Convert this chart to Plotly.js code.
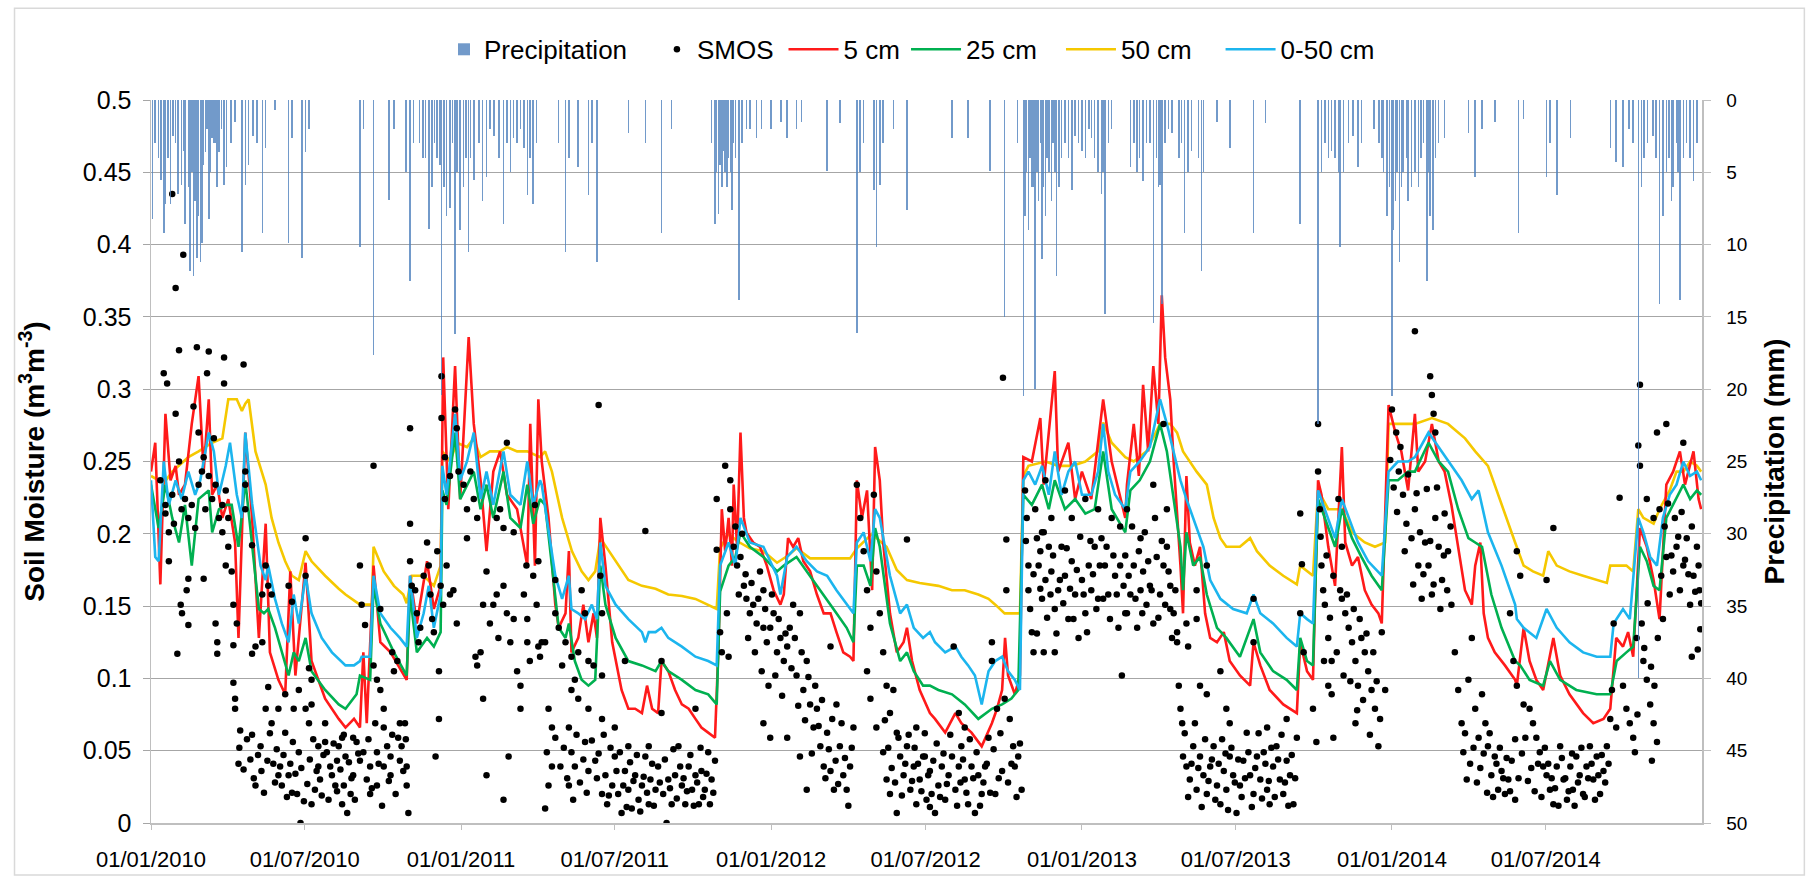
<!DOCTYPE html>
<html>
<head>
<meta charset="utf-8">
<script src="https://cdn.plot.ly/plotly-3.0.1.min.js"></script>
<style>
  html, body { margin: 0; padding: 0; background: #ffffff; }
  #chart { width: 1818px; height: 883px; }
</style>
</head>
<body>
<div id="chart"></div>
<script>
// Daily soil moisture at three depths, layer average, SMOS retrievals and rainfall, 2010-2014.
// All records are [day offset from 1 Jan 2010, value].

const tickDates = ['2010-01-01','2010-07-01','2011-01-01','2011-07-01','2012-01-01',
                   '2012-07-01','2013-01-01','2013-07-01','2014-01-01','2014-07-01'];
const tickText  = ['01/01/2010','01/07/2010','01/01/2011','01/07/2011','01/01/2012',
                   '01/07/2012','01/01/2013','01/07/2013','01/01/2014','01/07/2014'];

// rainfall, mm per day
const precipitation = [
  [2,8.2],[5,3],[9,4],[12,5.5],[15,9.2],[17,7.2],[20,4],[23,7.2],[26,2.5],[29,3],[32,6.5],[36,5.9],
  [38,3.5],[40,8.6],[44,6],[46,11.8],[48,5],[50,12.2],[52,7],[54,10.9],[56,8],[58,11.2],[60,9.9],
  [62,4.5],[64,3.6],[66,2],[68,8.2],[70,5],[72,2.6],[74,3],[76,3],[78,6],[80,3.6],[83,2],[86,5.9],
  [89,4.6],[94,3],[99,1.5],[107,10.5],[111,5.9],[115,4.5],[120,2.5],[125,3],[131,9.2],[135,3.3],
  [146,0.7],[162,9.9],[166,2.6],[178,10.9],[182,3.6],[186,2],
  [246,10.2],[250,2],[262,17.6],[280,6.9],[286,2],[300,5],[305,12.5],[309,3],[316,3],[320,4],
  [323,4],[327,8.9],[331,6],[334,3],[337,4],[340,4.5],[342,20.4],[345,6],[348,8],[352,7.5],[355,3],
  [358,16.2],[360,5],[364,9],[368,6],[371,4],[374,10.5],[376,4],[380,5.5],[386,3],[390,7],[395,5.3],
  [399,2],[404,2.5],[410,4],[415,8.6],[419,3],[423,5],[427,2.6],[431,3],[435,2],[439,3.3],[443,6.6],
  [446,4],[450,7.2],[454,3],
  [480,3],[488,10.5],[492,4],[503,4.6],[515,6.6],[519,3],[525,11.2],[562,2.3],[582,3],[601,9.2],
  [613,2],[660,3],[664,8.6],[666,5],[668,7.9],[670,4.5],[672,6],[674,3.5],[676,5],[678,6],[680,4],
  [682,5],[684,7.6],[686,3],[688,4],[692,13.8],[696,3],[701,2],[705,2],[713,2.6],[719,2],[730,2],
  [742,1.5],[749,2.6],[760,2],[766,1.5],[796,4.9],[811,1.6],
  [831,16.1],[835,5],[839,3],[851,6.2],[854,10.2],[858,5.9],[862,3],[874,2],[890,7.6],
  [943,2.6],[962,2.6],[988,4.9],[1005,15],[1020,3],[1027,20.5],[1029,8],[1031,5],[1033,9],[1035,4],
  [1037,6],[1039,6],[1041,20],[1043,5],[1045,7],[1047,3],[1049,11],[1051,6],[1053,8],[1055,4],
  [1057,5],[1060,7],[1062,3],[1064,5],[1066,12.2],[1069,6],[1072,4],[1076,3],[1080,4],[1084,6.2],
  [1088,2.5],[1092,3],[1096,3.5],[1100,4],[1104,2],[1107,2.6],[1111,4],[1115,5],[1119,6.5],
  [1121,5],[1123,14.8],[1127,3],[1131,2],
  [1153,4.6],[1157,3],[1161,5],[1164,4],[1168,5.6],[1172,3],[1176,3],[1180,15.4],[1184,4],
  [1186,6],[1188,5.9],[1190,14.1],[1194,3],[1198,2],[1202,2.3],[1210,4],[1213,3],[1217,9.2],
  [1221,5],[1225,3.5],[1233,4],[1237,11.8],[1239,5],[1255,1.5],[1270,3.3],[1298,9.2],[1312,1.6],
  [1353,8.6],[1374,22.4],
  [1378,5],[1382,3],[1386,4],[1390,3.5],[1394,4],[1398,5],[1400,10.2],[1404,5],[1410,3],[1415,2.5],
  [1421,4.6],[1425,3],[1440,2],[1446,3],[1449,4],[1451,5],[1455,8],[1458,6],[1461,20.5],[1463,9],
  [1465,7],[1467,5],[1470,11.2],[1472,6],[1474,5],[1478,4],[1480,7],[1484,6],[1488,5],[1492,6],
  [1495,4],[1498,3],[1502,12.5],[1504,5],[1506,8],[1509,9],[1512,4],[1516,3],[1523,2.6],
  [1551,2.3],[1559,5.3],[1567,2],[1582,1.5],
  [1610,9.2],[1616,1.3],[1643,5.3],[1647,3],[1655,6.6],[1671,2.6],[1718,3.3],[1725,4.3],[1733,4.6],
  [1740,2],[1745,3],[1751,40],[1755,6],[1758,4],[1762,3],[1768,2.5],[1772,4],[1776,14.1],[1780,8],
  [1784,5],[1787,4],[1790,7],[1792,6],[1796,3],[1798,5],[1800,13.8],[1804,4],[1808,3],[1812,4],
  [1816,5.6],[1820,3]
];

// SMOS surface soil moisture retrievals, m3/m3
const smos = [
  [25,0.435],[38,0.393],[29,0.37],[33,0.327],[54,0.329],[68,0.326],[86,0.322],[109,0.317],[15,0.311],
  [19,0.304],[66,0.311],[86,0.304],[29,0.283],[50,0.288],[56,0.27],[74,0.266],[62,0.253],[33,0.25],
  [11,0.237],[17,0.22],[17,0.214],[21,0.201],[25,0.227],[27,0.207],[36,0.217],[40,0.224],[44,0.211],
  [48,0.22],[52,0.204],[56,0.234],[60,0.243],[64,0.217],[68,0.24],[72,0.224],[76,0.234],[80,0.211],
  [84,0.22],[88,0.23],[91,0.211],[84,0.201],[111,0.243],[111,0.234],[111,0.217],[119,0.192],
  [21,0.181],[44,0.169],[62,0.169],[42,0.161],[35,0.151],[36.5,0.145],[44,0.137],[31,0.117],
  [76,0.138],[78,0.125],[78,0.117],[88,0.178],[91,0.191],[95,0.174],[97,0.151],[101,0.138],
  [97,0.123],[119,0.117],[97,0.097],[99,0.086],[99,0.079],[105,0.064],[103,0.041],[123,0.026],
  [119,0.061],[129,0.053],[135,0.079],[138,0.094],[144,0.041],[150,0.033],[154,0.026],[162,0.033],
  [168,0.079],[182,0.079],[189,0.082],[186,0.069],[174,0.049],[172,0.02],[176,0.0],[193,0.023],
  [199,0.03],[205,0.069],[207,0.049],[213,0.033],[221,0.053],[225,0.059],[158,0.0625],[197,0.039],
  [166,0.021],[180,0.015],[189,0.013],[209,0.016],[217,0.026],[225,0.013],[135,0.178],[131,0.158],
  [138,0.164],[142,0.158],[162,0.164],[166,0.153],[182,0.197],[182,0.171],[186,0.107],[158,0.089],
  [174,0.092],[189,0.099],[150,0.079],[131,0.125],[123,0.122],[142,0.069],[205,0.056],[219,0.043],
  [197,0.053],
  [104,0.052],[109,0.037],[113,0.058],[117,0.044],[121,0.031],[126,0.047],[130,0.036],[133,0.021],
  [137,0.043],[140,0.062],[146,0.028],[148,0.051],[152,0.039],[156,0.047],[160,0.018],[164,0.041],
  [167,0.056],[170,0.034],[177,0.038],[184,0.027],[187,0.044],[191,0.058],[195,0.036],[201,0.019],
  [203,0.047],[211,0.039],[215,0.055],[219,0.022],[223,0.037],[227,0.061],[233,0.042],[236,0.031],
  [240,0.016],[244,0.048],[256,0.058],[260,0.024],[264,0.069],[268,0.041],[272,0.012],[280,0.029],
  [284,0.061],[297,0.036],[300,0.058],
  [246,0.178],[262,0.247],[305,0.273],[305,0.207],[248,0.151],[252,0.137],[270,0.148],[262,0.109],
  [266,0.099],[270,0.092],[274,0.079],[286,0.105],[284,0.118],[290,0.112],[293,0.069],[291,0.059],
  [299,0.069],[295,0.053],[301,0.039],[301,0.026],[303,0.007],[274,0.066],[274,0.039],[278,0.053],
  [282,0.046],[293,0.043],[266,0.049],[258,0.039],[254,0.03],[258,0.02],[246,0.043],[238,0.033],
  [235,0.02],[231,0.007],[227,0.026],[229,0.046],[242,0.056],[250,0.049],[238,0.059],[266,0.026],
  [282,0.033],[288,0.02],
  [305,0.181],[307,0.164],[311,0.161],[313,0.145],[317,0.135],[315,0.125],[321,0.171],[325,0.194],
  [327,0.178],[329,0.158],[331,0.141],[333,0.132],[337,0.188],[341,0.164],[339,0.072],[335,0.046],
  [339,0.105],[344,0.151],[348,0.178],[352,0.158],[356,0.161],[360,0.138],[342,0.309],[342,0.28],
  [346,0.253],[346,0.224],[352,0.24],[358,0.286],[360,0.273],[362,0.243],[368,0.234],[372,0.217],
  [372,0.197],[376,0.243],[380,0.224],[384,0.211],[395,0.174],[391,0.151],[388,0.118],[382,0.115],
  [391,0.086],[395,0.033],[384,0.109],[399,0.138],[403,0.151],[407,0.158],[409,0.128],[415,0.164],
  [419,0.263],[419,0.145],[423,0.125],[427,0.141],[431,0.105],[435,0.095],[435,0.079],[439,0.158],
  [443,0.125],[443,0.141],[446,0.112],[450,0.171],[454,0.151],[456,0.122],[421,0.046],[415,0.016],
  [407,0.211],[415,0.204],[427,0.201],[442,0.178],[411,0.217],
  [527,0.289],[582,0.202],[666,0.224],[666,0.189],[676,0.247],[452,0.22],[456,0.181],[460,0.125],
  [458,0.115],[476,0.168],[476,0.145],[480,0.135],[484,0.109],[488,0.125],[495,0.115],[499,0.099],
  [503,0.118],[507,0.161],[511,0.145],[515,0.112],[521,0.109],[529,0.171],[531,0.145],[531,0.072],
  [515,0.079],[503,0.086],[468,0.079],[472,0.066],[476,0.059],[466,0.049],[472,0.039],[482,0.039],
  [468,0.026],[464,0.01],[492,0.066],[495,0.049],[499,0.039],[511,0.056],[515,0.036],[497,0.016],
  [492,0.026],[523,0.043],[531,0.02],[535,0.033],[537,0.013],[543,0.026],[546,0.046],[546,0.066],
  [550,0.02],[554,0.007],[558,0.036],[562,0.053],[562,0.023],[566,0.01],[570,0.033],[574,0.016],
  [578,0.026],[582,0.046],[586,0.013],[588,0.03],[586,0.053],[594,0.023],[597,0.039],[603,0.02],
  [607,0.0],[609,0.03],[613,0.013],[617,0.033],[621,0.053],[625,0.026],[629,0.013],[633,0.039],
  [637,0.023],[641,0.033],[645,0.013],[648,0.036],[652,0.023],[656,0.049],[660,0.03],[664,0.043],
  [658,0.013],[558,0.112],[601,0.112],[601,0.076],[641,0.079],[531,0.102],[495,0.092],[464,0.125],
  [670,0.132],[672,0.118],[678,0.145],[680,0.115],
  [486,0.052],[490,0.031],[501,0.061],[505,0.028],[509,0.044],[513,0.021],[519,0.057],[525,0.031],
  [527,0.048],[533,0.061],[539,0.019],[541,0.052],[548,0.036],[552,0.049],[556,0.026],[560,0.011],
  [564,0.042],[568,0.029],[572,0.047],[576,0.008],[580,0.032],[584,0.021],[590,0.041],[592,0.012],
  [599,0.028],[605,0.044],[611,0.024],[615,0.051],[619,0.017],[623,0.039],[627,0.031],[631,0.022],
  [635,0.047],[639,0.012],[643,0.028],[647,0.052],[650,0.018],[654,0.034],[662,0.021],
  [890,0.196],[682,0.237],[682,0.217],[686,0.191],[690,0.178],[694,0.184],[698,0.164],[701,0.155],
  [705,0.145],[709,0.151],[713,0.138],[717,0.174],[721,0.161],[721,0.135],[725,0.125],[729,0.135],
  [733,0.145],[737,0.118],[741,0.128],[745,0.112],[749,0.122],[752,0.135],[756,0.151],[760,0.102],
  [764,0.145],[768,0.092],[772,0.112],[776,0.082],[780,0.066],[784,0.079],[788,0.053],[792,0.039],
  [796,0.0625],[800,0.122],[800,0.036],[804,0.023],[807,0.082],[811,0.053],[815,0.033],[819,0.023],
  [823,0.039],[827,0.066],[721,0.069],[729,0.059],[749,0.059],[772,0.023],[764,0.046],[831,0.234],
  [835,0.211],[839,0.188],[843,0.161],[847,0.135],[851,0.227],[854,0.174],[858,0.145],[862,0.118],
  [866,0.095],[870,0.076],[874,0.092],[878,0.0625],[882,0.046],[886,0.033],[890,0.053],[894,0.023],
  [898,0.039],[901,0.013],[905,0.03],[909,0.046],[913,0.016],[917,0.036],[866,0.03],[870,0.02],
  [878,0.007],[843,0.105],[847,0.086],[854,0.066],[862,0.049],[901,0.066],
  [688,0.205],[692,0.158],[696,0.2],[700,0.172],[703,0.128],[707,0.166],[711,0.118],[715,0.155],
  [719,0.105],[723,0.148],[727,0.095],[731,0.158],[735,0.102],[739,0.141],[743,0.088],[747,0.131],
  [754,0.107],[758,0.128],[762,0.081],[766,0.118],[770,0.071],[774,0.101],[778,0.048],[782,0.095],
  [786,0.067],[790,0.085],[794,0.031],[798,0.051],[802,0.072],[806,0.043],[809,0.027],[813,0.069],
  [817,0.045],[821,0.012],[825,0.052],
  [1003,0.308],[1007,0.196],[1007,0.161],[911,0.046],[915,0.033],[919,0.02],[923,0.007],[927,0.026],
  [931,0.039],[935,0.016],[939,0.033],[943,0.046],[947,0.023],[951,0.039],[954,0.053],[958,0.03],
  [962,0.013],[966,0.039],[970,0.007],[974,0.033],[978,0.02],[982,0.039],[986,0.059],[990,0.125],
  [994,0.02],[996,0.079],[1002,0.036],[1005,0.086],[1011,0.072],[1015,0.053],[1017,0.039],
  [1021,0.046],[1025,0.023],[945,0.122],[951,0.076],[958,0.066],[990,0.112],
  [864,0.071],[868,0.052],[872,0.038],[876,0.028],[880,0.059],[884,0.019],[888,0.041],[892,0.061],
  [896,0.029],[899,0.052],[903,0.041],[907,0.022],[911,0.062],[917,0.011],[921,0.043],[925,0.055],
  [929,0.018],[933,0.048],[937,0.027],[941,0.061],[949,0.012],[953,0.028],[956,0.044],[960,0.021],
  [964,0.058],[968,0.031],[972,0.049],[976,0.012],[980,0.028],[984,0.041],[988,0.021],[992,0.051],
  [998,0.031],[1000,0.062],[1009,0.028],[1013,0.041],[1019,0.018],[1023,0.055],
  [1029,0.23],[1031,0.211],[1033,0.178],[1033,0.161],[1037,0.132],[1039,0.118],[1043,0.197],
  [1045,0.178],[1047,0.188],[1049,0.155],[1051,0.118],[1053,0.168],[1057,0.191],[1060,0.174],
  [1064,0.148],[1064,0.118],[1068,0.161],[1072,0.191],[1076,0.171],[1080,0.141],[1084,0.181],
  [1088,0.158],[1092,0.128],[1096,0.168],[1100,0.145],[1104,0.178],[1107,0.161],[1111,0.191],
  [1115,0.155],[1119,0.197],[1123,0.178],[1127,0.158],[1131,0.211],[1135,0.171],[1139,0.135],
  [1143,0.102],[1147,0.145],[1049,0.201],[1041,0.217],[1060,0.211],[1084,0.211],[1115,0.217],
  [1053,0.237],[1076,0.23],[1100,0.224],
  [1030,0.195],[1035,0.148],[1039,0.172],[1043,0.131],[1047,0.162],[1051,0.201],[1055,0.142],
  [1059,0.158],[1062,0.185],[1066,0.131],[1070,0.168],[1074,0.152],[1078,0.19],[1082,0.162],
  [1086,0.141],[1090,0.175],[1094,0.198],[1098,0.158],[1102,0.132],[1106,0.195],[1109,0.172],
  [1113,0.148],[1117,0.178],[1121,0.155],[1125,0.191],[1129,0.141],[1133,0.185],[1137,0.158],
  [1141,0.205],[1147,0.185],[1151,0.171],[1155,0.205],[1159,0.155],[1163,0.188],[1167,0.145],
  [1170,0.201],[1174,0.181],[1178,0.161],[1182,0.211],[1186,0.142],[1190,0.195],[1194,0.151],
  [1198,0.174],[1202,0.128],[1206,0.161],
  [1141,0.178],[1145,0.164],[1149,0.145],[1153,0.158],[1157,0.178],[1161,0.135],[1165,0.161],
  [1168,0.174],[1172,0.151],[1176,0.164],[1180,0.138],[1184,0.184],[1188,0.158],[1192,0.178],
  [1196,0.191],[1200,0.164],[1204,0.145],[1208,0.132],[1210,0.095],[1212,0.079],[1214,0.069],
  [1215,0.046],[1219,0.039],[1223,0.03],[1227,0.053],[1231,0.023],[1235,0.046],[1239,0.033],
  [1243,0.02],[1247,0.039],[1251,0.053],[1255,0.026],[1259,0.013],[1263,0.036],[1266,0.023],
  [1270,0.046],[1274,0.033],[1278,0.007],[1282,0.026],[1286,0.043],[1290,0.0625],[1294,0.033],
  [1298,0.02],[1302,0.046],[1306,0.03],[1310,0.049],[1314,0.023],[1317,0.013],[1321,0.039],
  [1325,0.053],[1329,0.03],[1333,0.02],[1337,0.043],[1341,0.033],[1345,0.013],[1349,0.059],
  [1353,0.214],[1355,0.179],[1353,0.145],[1357,0.118],[1368,0.079],[1372,0.056],[1219,0.138],
  [1221,0.122],[1231,0.141],[1235,0.095],[1243,0.089],[1259,0.105],[1266,0.079],[1298,0.155],
  [1298,0.125],[1243,0.178],[1231,0.161],[1270,0.069],[1314,0.066],[1337,0.072],[1200,0.148],
  [1208,0.125],[1149,0.217],[1165,0.197],[1180,0.234],[1192,0.276],[1196,0.217],
  [1217,0.062],[1221,0.018],[1225,0.041],[1229,0.069],[1233,0.038],[1237,0.011],[1241,0.058],
  [1245,0.029],[1249,0.044],[1253,0.016],[1257,0.041],[1261,0.058],[1265,0.048],[1268,0.009],
  [1272,0.052],[1276,0.028],[1280,0.044],[1284,0.018],[1288,0.031],[1292,0.049],[1296,0.011],
  [1300,0.038],[1304,0.062],[1308,0.017],[1312,0.041],[1316,0.029],[1319,0.052],[1323,0.018],
  [1327,0.044],[1331,0.061],[1335,0.028],[1339,0.012],[1343,0.047],[1347,0.031],
  [1374,0.276],[1374,0.243],[1376,0.217],[1378,0.178],[1380,0.161],[1382,0.151],[1386,0.128],
  [1390,0.112],[1386,0.095],[1390,0.089],[1392,0.059],[1398,0.224],[1402,0.191],[1402,0.155],
  [1406,0.145],[1410,0.135],[1414,0.125],[1418,0.112],[1421,0.095],[1425,0.128],[1429,0.118],
  [1433,0.105],[1437,0.092],[1441,0.079],[1445,0.053],[1449,0.132],[1453,0.092],[1418,0.069],
  [1377,0.198],[1381,0.112],[1384,0.185],[1388,0.142],[1392,0.171],[1396,0.118],[1400,0.161],
  [1404,0.102],[1408,0.158],[1412,0.098],[1416,0.148],[1420,0.078],[1423,0.141],[1427,0.085],
  [1431,0.131],[1435,0.061],[1439,0.118],[1443,0.098],[1447,0.072],
  [1461,0.286],[1466,0.27],[1469,0.243],[1474,0.227],[1478,0.207],[1484,0.197],[1488,0.217],
  [1492,0.178],[1496,0.155],[1500,0.194],[1504,0.178],[1508,0.158],[1512,0.211],[1516,0.191],
  [1520,0.168],[1523,0.214],[1527,0.188],[1531,0.151],[1535,0.118],[1539,0.092],[1543,0.069],
  [1545,0.049],[1549,0.03],[1551,0.099],[1555,0.128],[1559,0.079],[1563,0.059],[1567,0.089],
  [1571,0.069],[1574,0.053],[1578,0.033],[1582,0.046],[1586,0.023],[1590,0.036],[1594,0.02],
  [1598,0.03],[1602,0.043],[1606,0.016],[1488,0.34],[1506,0.309],[1508,0.296],[1510,0.283],
  [1512,0.27],
  [1459,0.251],[1463,0.232],[1467,0.215],[1471,0.26],[1476,0.188],[1480,0.241],[1486,0.165],
  [1490,0.228],[1494,0.201],[1498,0.172],[1502,0.231],[1506,0.195],[1510,0.165],[1514,0.232],
  [1518,0.148],[1522,0.185],[1526,0.161],[1530,0.205],
  [1547,0.062],[1553,0.041],[1557,0.052],[1561,0.028],[1565,0.038],[1569,0.048],[1573,0.021],
  [1576,0.062],[1580,0.018],[1584,0.041],[1588,0.052],[1592,0.031],[1596,0.045],[1600,0.022],
  [1606,0.058],[1610,0.031],[1614,0.048],[1618,0.059],[1621,0.029],[1625,0.038],[1629,0.022],
  [1633,0.041],[1637,0.018],[1641,0.052],[1645,0.041],[1649,0.031],[1653,0.024],[1657,0.012],
  [1661,0.045],[1665,0.031],[1669,0.022],[1673,0.048],[1676,0.012],[1680,0.028],[1684,0.052],
  [1688,0.018],[1692,0.031],[1696,0.041],[1700,0.016],[1704,0.033],[1708,0.047],[1712,0.028],
  [1716,0.041],
  [1753,0.303],[1751,0.261],[1753,0.247],[1729,0.225],[1651,0.204],[1608,0.188],[1612,0.171],
  [1773,0.27],[1784,0.276],[1804,0.263],[1600,0.145],[1604,0.112],[1608,0.095],[1616,0.082],
  [1623,0.079],[1627,0.069],[1631,0.059],[1635,0.049],[1639,0.039],[1643,0.033],[1647,0.023],
  [1651,0.013],[1655,0.039],[1659,0.053],[1663,0.03],[1667,0.016],[1671,0.039],[1674,0.023],
  [1678,0.046],[1682,0.033],[1686,0.02],[1690,0.039],[1694,0.053],[1698,0.03],[1702,0.046],
  [1706,0.02],[1710,0.036],[1714,0.053],[1718,0.072],[1720,0.092],[1725,0.066],[1643,0.168],
  [1722,0.138],[1733,0.095],[1737,0.079],[1741,0.069],[1745,0.059],[1747,0.049],[1749,0.128],
  [1755,0.138],[1757,0.112],[1761,0.099],[1765,0.082],[1769,0.069],[1773,0.056],[1767,0.043],
  [1780,0.141],[1784,0.184],[1788,0.158],[1792,0.174],[1796,0.191],[1800,0.161],[1804,0.178],
  [1808,0.197],[1812,0.151],[1816,0.171],[1820,0.191],[1823,0.161],[1814,0.115],[1824,0.134],
  [1821,0.12],[1761,0.224],[1769,0.211],[1776,0.217],
  [1750,0.075],[1758,0.121],[1762,0.152],[1766,0.108],[1770,0.095],[1774,0.128],[1778,0.171],
  [1782,0.205],[1786,0.221],[1790,0.185],[1794,0.211],[1798,0.198],[1802,0.215],[1806,0.182],
  [1810,0.172],[1814,0.205],[1818,0.16],[1822,0.178],[1825,0.152]
];

// 5 cm probe
const cm5 = [
  [0,0.243],[5,0.263],[11,0.165],[17,0.283],[23,0.237],[29,0.247],[33,0.227],[40,0.234],[48,0.276],
  [56,0.309],[62,0.243],[68,0.293],[72,0.227],[78,0.234],[84,0.211],[91,0.224],[99,0.194],[103,0.128],
  [111,0.27],[119,0.211],[127,0.128],[135,0.207],[140,0.118],[150,0.099],[158,0.089],[164,0.174],
  [170,0.102],[182,0.18],[189,0.112],[205,0.086],[221,0.072],[229,0.066],[239,0.072],[246,0.066],
  [250,0.118],[254,0.069],[262,0.178],[270,0.125],[282,0.118],[288,0.112],[301,0.099],[305,0.171],
  [313,0.138],[325,0.181],[333,0.148],[341,0.164],[344,0.322],[350,0.217],[358,0.316],[364,0.224],
  [374,0.336],[380,0.276],[388,0.237],[395,0.188],[403,0.243],[411,0.257],[419,0.227],[431,0.217],
  [443,0.178],[446.5,0.276],[452,0.178],[456,0.293],[460,0.25],[468,0.211],[472,0.178],[476,0.151],
  [480,0.135],[488,0.145],[492,0.188],[495,0.118],[503,0.128],[509,0.151],[515,0.125],[521,0.145],
  [525,0.128],[529,0.211],[535,0.178],[543,0.125],[554,0.092],[562,0.079],[570,0.079],[578,0.076],
  [584,0.095],[590,0.079],[597,0.076],[601,0.112],[609,0.105],[617,0.092],[625,0.082],[633,0.079],
  [641,0.072],[648,0.066],[656,0.0625],[664,0.059],[668,0.12],[672,0.217],[676,0.188],[680,0.211],
  [684,0.178],[686,0.234],[690,0.191],[694,0.27],[698,0.211],[701,0.201],[709,0.194],[717,0.191],
  [725,0.178],[733,0.161],[741,0.151],[745,0.158],[750,0.197],[756,0.191],[762,0.197],[768,0.181],
  [776,0.174],[784,0.158],[792,0.145],[800,0.145],[807,0.132],[815,0.118],[823,0.115],[827,0.112],
  [831,0.237],[837,0.211],[843,0.23],[849,0.161],[852.5,0.26],[858,0.237],[862,0.194],[870,0.145],
  [878,0.118],[886,0.125],[890,0.135],[896,0.112],[905,0.092],[917,0.076],[923,0.072],[935,0.0625],
  [947,0.076],[954,0.069],[966,0.0625],[978,0.053],[990,0.069],[996,0.079],[1002,0.092],
  [1005.5,0.128],[1009,0.102],[1017,0.089],[1023,0.102],[1027,0.253],[1037,0.25],[1047,0.28],
  [1051,0.234],[1064,0.3125],[1068,0.243],[1080,0.263],[1088,0.224],[1096,0.243],[1107,0.224],
  [1121,0.293],[1131,0.25],[1147,0.211],[1149,0.234],[1157,0.276],[1163,0.24],[1168,0.303],
  [1174,0.257],[1180,0.316],[1186,0.276],[1190,0.365],[1194,0.322],[1200,0.293],[1204,0.25],
  [1208,0.217],[1212,0.178],[1215,0.145],[1219,0.24],[1223,0.194],[1229,0.178],[1235,0.191],
  [1241,0.145],[1247,0.128],[1255,0.125],[1263,0.132],[1270,0.112],[1282,0.102],[1294,0.095],
  [1298,0.125],[1306,0.109],[1317,0.092],[1333,0.082],[1349,0.076],[1353,0.125],[1361,0.105],
  [1368,0.099],[1374,0.237],[1378,0.227],[1386,0.191],[1394,0.164],[1402,0.26],[1406,0.194],
  [1414,0.178],[1421,0.184],[1429,0.161],[1437,0.151],[1445,0.145],[1449,0.138],[1457,0.289],
  [1465,0.27],[1472,0.257],[1480,0.23],[1488,0.283],[1492,0.243],[1500,0.25],[1508,0.276],
  [1516,0.25],[1523,0.243],[1531,0.22],[1539,0.191],[1547,0.161],[1555,0.151],[1559,0.178],
  [1565,0.194],[1569,0.145],[1574,0.128],[1582,0.118],[1594,0.109],[1606,0.099],[1608,0.095],
  [1616,0.135],[1623,0.112],[1631,0.099],[1639,0.092],[1651,0.128],[1659,0.102],[1670,0.089],
  [1686,0.076],[1698,0.069],[1710,0.072],[1718,0.079],[1725,0.128],[1733,0.122],[1739,0.132],
  [1745,0.115],[1753,0.204],[1761,0.191],[1769,0.168],[1776,0.141],[1784,0.234],[1792,0.243],
  [1800,0.257],[1806,0.234],[1816,0.257],[1822,0.224],[1825,0.217]
];

// 25 cm probe
const cm25 = [
  [0,0.234],[9,0.204],[17,0.234],[25,0.211],[33,0.194],[40,0.22],[48,0.178],[56,0.224],[68,0.23],
  [72,0.201],[80,0.217],[88,0.22],[95,0.22],[103,0.191],[111,0.237],[119,0.191],[127,0.148],
  [133,0.145],[138,0.148],[146,0.135],[154,0.118],[162,0.102],[168,0.118],[174,0.112],[182,0.128],
  [189,0.105],[205,0.092],[221,0.082],[229,0.079],[242,0.089],[246,0.102],[258,0.099],[262,0.164],
  [270,0.138],[286,0.118],[301,0.102],[305,0.158],[313,0.118],[325,0.128],[333,0.122],[341,0.132],
  [343,0.23],[348,0.22],[358,0.27],[364,0.224],[372,0.234],[380,0.243],[388,0.217],[395,0.234],
  [403,0.211],[415,0.243],[423,0.211],[435,0.204],[443,0.234],[450,0.207],[458,0.224],[464,0.22],
  [472,0.178],[480,0.135],[488,0.128],[492,0.138],[499,0.112],[507,0.099],[515,0.095],[523,0.099],
  [529,0.178],[535,0.151],[547,0.128],[562,0.112],[578,0.109],[594,0.105],[601,0.112],[609,0.105],
  [625,0.099],[641,0.092],[656,0.089],[666,0.082],[670,0.16],[680,0.178],[688,0.184],[694,0.201],
  [705,0.191],[721,0.184],[737,0.174],[745,0.178],[760,0.184],[776,0.171],[792,0.158],[807,0.145],
  [819,0.135],[827,0.125],[831,0.178],[839,0.178],[847,0.164],[852.5,0.204],[858,0.191],[870,0.138],
  [882,0.112],[890,0.118],[898,0.105],[909,0.095],[917,0.095],[927,0.092],[943,0.089],[958,0.082],
  [974,0.072],[990,0.079],[1002,0.082],[1013,0.086],[1021,0.092],[1027,0.227],[1037,0.22],
  [1049,0.234],[1057,0.217],[1064,0.237],[1076,0.217],[1088,0.224],[1100,0.214],[1111,0.217],
  [1121,0.257],[1131,0.217],[1147,0.201],[1153,0.23],[1164,0.237],[1176,0.25],[1188,0.276],
  [1196,0.257],[1204,0.224],[1212,0.191],[1215,0.161],[1219,0.201],[1227,0.178],[1235,0.184],
  [1243,0.158],[1255,0.135],[1266,0.128],[1282,0.115],[1298,0.141],[1306,0.118],[1321,0.105],
  [1337,0.099],[1349,0.092],[1353,0.128],[1361,0.112],[1368,0.109],[1374,0.224],[1386,0.204],
  [1394,0.191],[1402,0.217],[1414,0.197],[1425,0.184],[1437,0.171],[1449,0.161],[1457,0.237],
  [1468,0.237],[1480,0.243],[1488,0.243],[1504,0.263],[1516,0.25],[1527,0.243],[1539,0.217],
  [1551,0.197],[1559,0.194],[1567,0.191],[1578,0.158],[1590,0.135],[1606,0.112],[1612,0.109],
  [1623,0.099],[1639,0.095],[1647,0.112],[1659,0.099],[1678,0.092],[1702,0.089],[1718,0.089],
  [1725.5,0.112],[1737,0.118],[1745,0.122],[1753,0.191],[1761,0.181],[1769,0.164],[1776,0.161],
  [1784,0.211],[1792,0.22],[1804,0.234],[1812,0.224],[1820,0.23],[1825,0.227]
];

// 50 cm probe
const cm50 = [
  [0,0.24],[15,0.235],[25,0.243],[33,0.247],[44,0.253],[56,0.257],[72,0.263],[84,0.266],[91,0.293],
  [101,0.293],[107,0.285],[111,0.29],[115,0.293],[123,0.257],[135,0.234],[142,0.211],[150,0.194],
  [158,0.181],[166,0.171],[174,0.168],[178,0.178],[182,0.188],[189,0.181],[205,0.171],[221,0.162],
  [229,0.158],[246,0.151],[260,0.151],[262,0.191],[274,0.174],[286,0.164],[297,0.158],[301,0.152],
  [307,0.171],[321,0.171],[333,0.164],[341,0.178],[343,0.257],[352,0.25],[360,0.263],[372,0.26],
  [380,0.266],[388,0.253],[399,0.257],[411,0.257],[419,0.26],[431,0.257],[443,0.257],[458,0.253],
  [464,0.257],[472,0.243],[484,0.211],[495.5,0.188],[507,0.174],[515,0.168],[523,0.174],[529,0.197],
  [539,0.188],[550,0.178],[562,0.168],[578,0.164],[594,0.162],[609,0.158],[625,0.157],[641,0.155],
  [656,0.151],[666,0.148],[670,0.19],[680,0.2],[690,0.195],[705,0.19],[721,0.188],[737,0.18],
  [750,0.185],[760,0.19],[776,0.183],[800,0.183],[823,0.183],[831,0.19],[849,0.2],[858,0.195],
  [866,0.191],[878,0.175],[890,0.168],[905,0.166],[917,0.165],[927,0.164],[943,0.161],[958,0.161],
  [974,0.158],[986,0.155],[994,0.151],[1005,0.145],[1023,0.145],[1027,0.24],[1033,0.247],
  [1053,0.25],[1068,0.247],[1084,0.247],[1100,0.25],[1115,0.257],[1121,0.277],[1131,0.263],
  [1147,0.253],[1157,0.25],[1172,0.257],[1188,0.276],[1200,0.276],[1208,0.27],[1215,0.257],
  [1231,0.243],[1243,0.234],[1251,0.211],[1259,0.197],[1266,0.191],[1282,0.191],[1294,0.197],
  [1302,0.188],[1317,0.178],[1333,0.171],[1349,0.165],[1353,0.178],[1361,0.174],[1368,0.171],
  [1374,0.23],[1386,0.217],[1402,0.217],[1414,0.201],[1429,0.194],[1441,0.191],[1453,0.194],
  [1457,0.276],[1472,0.276],[1488,0.276],[1508,0.28],[1527,0.276],[1547,0.266],[1559,0.257],
  [1574,0.247],[1590,0.22],[1606,0.194],[1616,0.178],[1627,0.174],[1639,0.171],[1645,0.188],
  [1655,0.178],[1670,0.174],[1686,0.171],[1702,0.168],[1714,0.166],[1718,0.178],[1725,0.178],
  [1737,0.178],[1745,0.174],[1751,0.217],[1757,0.211],[1769,0.207],[1776,0.217],[1788,0.23],
  [1796,0.243],[1804,0.243],[1812,0.25],[1820,0.247],[1825,0.243]
];

// 0-50 cm layer average
const cm0to50 = [
  [0,0.237],[5,0.184],[9,0.181],[15,0.25],[21,0.22],[29,0.237],[36,0.224],[44,0.243],[52,0.227],
  [58,0.237],[68,0.27],[74,0.257],[80,0.227],[88,0.247],[93,0.263],[101,0.227],[107,0.211],
  [111,0.27],[119,0.221],[129,0.178],[135,0.168],[138,0.178],[146,0.155],[154,0.138],[162,0.125],
  [168,0.158],[174,0.138],[182,0.171],[189,0.145],[201,0.128],[213,0.118],[229,0.109],[239,0.109],
  [246,0.112],[248,0.115],[258,0.115],[262,0.171],[270,0.145],[282,0.135],[293,0.128],[301,0.122],
  [305,0.171],[313,0.128],[321,0.145],[327,0.164],[333,0.135],[341,0.158],[343,0.247],[348,0.227],
  [358,0.283],[364,0.237],[372,0.25],[380,0.27],[388,0.224],[395,0.243],[403,0.22],[415,0.257],
  [423,0.227],[435,0.22],[443,0.25],[450,0.22],[458,0.237],[460,0.234],[468,0.201],[476,0.171],
  [484,0.155],[492,0.171],[495,0.148],[503,0.145],[511,0.141],[519,0.151],[525,0.141],[529,0.194],
  [535,0.164],[547,0.151],[562,0.141],[578,0.132],[582,0.125],[586,0.132],[594,0.132],[601,0.135],
  [609,0.128],[625,0.122],[641,0.115],[656,0.112],[666,0.109],[670,0.178],[680,0.194],[688,0.178],
  [694,0.211],[705,0.194],[721,0.191],[737,0.171],[741,0.158],[749,0.184],[760,0.191],[772,0.181],
  [784,0.174],[796,0.171],[807,0.161],[819,0.151],[827,0.145],[831,0.194],[839,0.201],[847,0.181],
  [852.5,0.217],[858,0.211],[870,0.171],[882,0.145],[890,0.151],[898,0.135],[909,0.128],[917,0.132],
  [923,0.125],[935,0.118],[947,0.122],[954,0.115],[962,0.109],[970,0.102],[978,0.082],[986,0.105],
  [994,0.112],[1002,0.115],[1009,0.105],[1017,0.099],[1023,0.092],[1027,0.237],[1033,0.243],
  [1041,0.234],[1049,0.247],[1057,0.227],[1064,0.257],[1072,0.227],[1080,0.243],[1088,0.25],
  [1096,0.227],[1107,0.227],[1115,0.243],[1121,0.276],[1127,0.243],[1135,0.227],[1147,0.217],
  [1153,0.243],[1164,0.25],[1176,0.26],[1188,0.293],[1196,0.276],[1204,0.257],[1212,0.237],
  [1219,0.224],[1227,0.211],[1239,0.191],[1247,0.168],[1259,0.155],[1274,0.148],[1290,0.145],
  [1298,0.158],[1306,0.145],[1321,0.138],[1337,0.128],[1349,0.122],[1353,0.145],[1361,0.141],
  [1368,0.138],[1374,0.23],[1386,0.211],[1394,0.197],[1402,0.224],[1410,0.211],[1421,0.194],
  [1433,0.181],[1449,0.171],[1457,0.243],[1468,0.25],[1480,0.25],[1488,0.253],[1504,0.27],
  [1516,0.26],[1527,0.25],[1543,0.237],[1555,0.224],[1563,0.23],[1574,0.201],[1590,0.178],
  [1606,0.151],[1608,0.141],[1616,0.135],[1631,0.128],[1643,0.148],[1655,0.135],[1670,0.125],
  [1686,0.118],[1702,0.115],[1718,0.115],[1722,0.138],[1733,0.148],[1741,0.141],[1751,0.211],
  [1757,0.201],[1765,0.184],[1773,0.178],[1780,0.211],[1788,0.227],[1796,0.234],[1804,0.25],
  [1812,0.24],[1820,0.243],[1825,0.237]
];

const FONT = 'Liberation Sans, Arial, sans-serif';
const DAY = 86400000;
const ORIGIN = Date.UTC(2010, 0, 1);
const toDate = d => new Date(ORIGIN + d * DAY).toISOString().slice(0, 19).replace('T', ' ');
const xs = rec => rec.map(r => toDate(r[0]));
const ys = rec => rec.map(r => r[1]);

function lineTrace(rec, name, color, legendId) {
  return {
    type: 'scatter', mode: 'lines', name: name, legend: legendId,
    x: xs(rec), y: ys(rec), xaxis: 'x', yaxis: 'y',
    line: { color: color, width: 2.6 },
    hoverinfo: 'skip'
  };
}

const traces = [
  {
    type: 'bar', name: 'Precipitation', legend: 'legend',
    x: xs(precipitation), y: ys(precipitation), xaxis: 'x', yaxis: 'y2',
    width: 1.8 * DAY,
    marker: { color: 'rgba(79,129,189,0.8)', line: { width: 0 } },
    hoverinfo: 'skip'
  },
  lineTrace(cm50, '50 cm', '#F5C800', 'legend5'),
  lineTrace(cm5, '5 cm', '#FF1A1A', 'legend3'),
  lineTrace(cm25, '25 cm', '#00B050', 'legend4'),
  lineTrace(cm0to50, '0-50 cm', '#1CB5EE', 'legend6'),
  {
    type: 'scatter', mode: 'markers', name: 'SMOS', legend: 'legend2',
    x: xs(smos), y: ys(smos), xaxis: 'x', yaxis: 'y',
    marker: { color: '#000000', size: 6.5, symbol: 'circle' },
    hoverinfo: 'skip'
  }
];

// one legend box per entry so each entry sits where it belongs along the top
function legendAt(x, itemwidth) {
  return {
    orientation: 'h', x: x, xanchor: 'left', y: 1.07, yanchor: 'middle',
    font: { family: FONT, size: 26, color: '#000000' },
    itemwidth: itemwidth, bgcolor: 'rgba(0,0,0,0)', borderwidth: 0
  };
}

const layout = {
  width: 1818, height: 883,
  margin: { l: 151, r: 116, t: 100, b: 60 },
  paper_bgcolor: '#ffffff', plot_bgcolor: '#ffffff',
  font: { family: FONT, color: '#000000', size: 20 },
  showlegend: true,
  bargap: 0,
  legend:  legendAt(0.1889, 30),
  legend2: legendAt(0.3262, 30),
  legend3: legendAt(0.4078, 50),
  legend4: legendAt(0.4868, 50),
  legend5: legendAt(0.5867, 50),
  legend6: legendAt(0.6896, 50),
  xaxis: {
    type: 'date',
    range: ['2010-01-01', '2015-01-01'],
    tickvals: tickDates, ticktext: tickText,
    ticks: 'outside', ticklen: 5, tickcolor: '#bfbfbf',
    showgrid: false, showline: true, linecolor: '#bfbfbf', linewidth: 1.5,
    tickfont: { family: FONT, size: 22, color: '#000000' },
    ticklabelstandoff: 11,
    zeroline: false
  },
  yaxis: {
    range: [0, 0.5], dtick: 0.05, tick0: 0,
    showgrid: true, gridcolor: '#a6a6a6', gridwidth: 1,
    showline: true, linecolor: '#bfbfbf', linewidth: 1.5,
    ticks: 'outside', ticklen: 7, tickcolor: '#a6a6a6',
    tickfont: { family: FONT, size: 25, color: '#000000' },
    ticklabelstandoff: 6,
    zeroline: false,
    title: {
      text: '<b>Soil Moisture (m<sup>3</sup>m<sup>-3</sup>)</b>',
      font: { family: FONT, size: 28, color: '#000000' },
      standoff: 30
    }
  },
  yaxis2: {
    overlaying: 'y', side: 'right',
    range: [50, 0], dtick: 5, tick0: 0,
    showgrid: false, zeroline: false,
    showline: true, linecolor: '#bfbfbf', linewidth: 1.5,
    ticks: 'outside', ticklen: 7, tickcolor: '#bfbfbf',
    tickfont: { family: FONT, size: 19, color: '#000000' },
    ticklabelstandoff: 12,
    title: {
      text: '<b>Precipitation (mm)</b>',
      font: { family: FONT, size: 28, color: '#000000' },
      standoff: 18
    }
  },
  shapes: [{
    type: 'rect', xref: 'paper', yref: 'paper',
    x0: -0.088, x1: 1.066, y0: -0.072, y1: 1.127,
    line: { color: '#d9d9d9', width: 1.5 }, fillcolor: 'rgba(0,0,0,0)', layer: 'below'
  }]
};

Plotly.newPlot('chart', traces, layout, { displayModeBar: false, staticPlot: true });
</script>
</body>
</html>
